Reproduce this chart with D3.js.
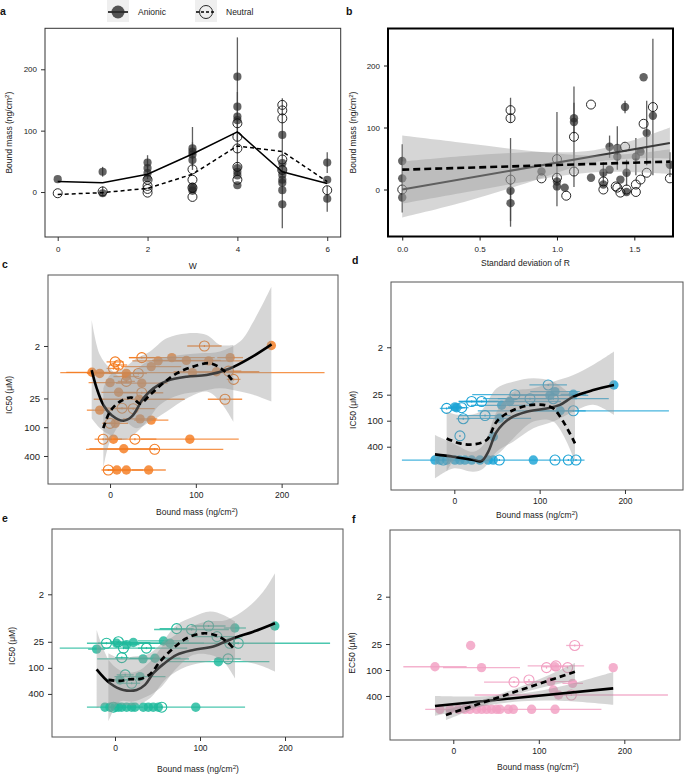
<!DOCTYPE html>
<html><head><meta charset="utf-8">
<script src="https://cdn.jsdelivr.net/npm/d3@7"></script>
<style>body{margin:0;background:#fff} svg text{font-family:"Liberation Sans",Arial,Helvetica,sans-serif}</style>
</head><body><script>
// ---------------- DATA ----------------
// Panel a: bound mass vs W
const aW = [0, 1, 2, 3, 4, 5, 6];
const aXTicks = [0, 2, 4, 6];
const massTicks = [0, 100, 200];
const aAnionicMean = [17, 15, 29, 62, 98, 33, 14];
const aNeutralMean = [-4, -1, 6, 29, 75, 66, 17];
// [W, bound mass, sd]
const aAnionic = [[0,21,0],[1,33,8],[1,-2,0],[2,48,12],[2,39,0],[2,31,10],[2,22,0],[3,71,35],[3,66,0],[3,61,20],[3,52,0],[3,9,0],[3,5,0],[3,2,0],[4,188,0],[4,139,113],[4,123,40],[4,117,0],[4,39,0],[4,33,0],[4,27,0],[4,11,0],[5,93,0],[5,47,106],[5,36,0],[5,28,0],[5,20,0],[5,15,0],[5,3,0],[5,-20,0],[6,48,17],[6,20,0],[6,-11,21]];
const aNeutral = [[0,-2,0],[1,1,8],[2,20,0],[2,10,0],[2,5,0],[2,-1,0],[3,37,0],[3,20,0],[3,7,0],[3,-8,0],[4,112,0],[4,90,0],[4,71,0],[4,41,0],[4,20,0],[5,142,0],[5,133,0],[5,120,0],[5,53,0],[5,36,0],[6,3,0]];

// Panel b: bound mass vs SD of R  [sd, mass, err]
const bXTicks = [0, 0.5, 1.0, 1.5];
const bAnionic = [[0,46,0],[0,18,55],[0,-13,0],[0.7,-2,0],[0.7,-22,38],[0.9,29,0],[1.0,13,0],[1.0,5,0],[1.05,3,0],[1.11,115,25],[1.11,109,0],[1.22,19,0],[1.3,8,0],[1.3,27,17],[1.34,69,18],[1.34,32,0],[1.39,67,35],[1.39,53,0],[1.41,16,0],[1.44,133,10],[1.45,27,21],[1.45,-4,0],[1.51,53,30],[1.54,61,0],[1.56,181,0],[1.58,91,52],[1.62,119,0],[1.73,40,20]];
const bNeutral = [[0,0,0],[0.7,128,20],[0.7,115,0],[0.7,16,67],[0.9,18,0],[1.0,49,76],[1.0,19,0],[1.06,-10,0],[1.11,85,81],[1.11,29,0],[1.22,137,0],[1.3,13,0],[1.3,0,0],[1.38,5,0],[1.39,3,0],[1.41,-5,0],[1.44,69,0],[1.45,0,0],[1.51,-4,0],[1.51,8,0],[1.54,16,0],[1.56,106,0],[1.58,27,0],[1.62,133,110],[1.73,18,0]];
const bSolidFit = [[0,0],[1.73,75]];
const bDashedFit = [[0,32],[1.73,45]];
// [x, lower, upper]
const bSolidRibbon = [[0,-45,45],[0.4,-20,54],[0.8,10,60],[1.2,42,62],[1.5,50,80],[1.73,50,100]];
const bDashedRibbon = [[0,-23,87],[0.4,-5,75],[0.8,13,63],[1.2,27,55],[1.5,28,58],[1.73,25,65]];

// Panels c-f: potency vs bound mass  [bound mass, IC50/EC50, x sd]
const bmTicks = [0, 100, 200];
const icTicks = [2, 25, 100, 400];

const cAnionic = [[188,1.95,0],[-21,7.1,30],[-12,7.5,15],[0,11.7,25],[19,7.5,20],[19,8.7,15],[37,12,30],[10,18.6,20],[48,5.4,35],[56,4.1,30],[72,3.5,50],[89,4.0,40],[115,4.1,40],[140,3.5,15],[124,6.9,50],[96,7.2,154],[34,26,53],[35,67,20],[48,71,20],[6,83,15],[4,178,10],[93,178,57],[16,282,40],[8,785,15],[19,785,20],[45,785,20],[-12,44,15]];
const cNeutral = [[110,2,20],[37,3.5,15],[6,4.3,10],[10,5,10],[4,5.9,8],[33,7.5,10],[19,11,10],[37,19,25],[138,6.7,15],[144,10,8],[134,26,20],[14,40,20],[27,41,25],[0,83,8],[-8,178,10],[29,178,25],[52,290,80],[-2,785,8]];
const cSolidFit = [[-21.4,6.4],[-15.5,15.4],[-7.8,34],[1.9,56],[15.5,73],[25.2,60],[38.8,25],[50.5,15.4],[66,10.8],[89.3,8.8],[112.6,8.1],[139.8,5.9],[163,3.6],[188.3,1.85]];
const cDashedFit = [[-7.8,105],[0,47],[11.7,29],[25.2,24],[35,32],[46.6,21],[62,12],[77.7,7.5],[97,5.4],[116.5,4.6],[132,6.4],[143.7,11.1]];
// [x, top (low value), bottom (high value)]
const cSolidRibbon = [[-21.4,0.571,65],[-11.7,3.1,105],[0,5.9,146],[15.5,9.5,185],[27.2,6.9,146],[42.7,4.3,77],[58.3,3.6,34],[81.6,3.1,21],[104.9,2.85,18],[128.2,2.6,15.4],[151.5,1.62,18],[167,0.62,21],[188,0.115,29]];
const cDashedRibbon = [[-7.8,15.4,725],[0,8.1,200],[15.5,5.9,77],[31,3.6,105],[46.6,2.6,77],[66,1.38,47],[89.3,1.09,25],[112.6,1.18,18],[128.2,1.9,29],[143.7,1.9,77]];

const dAnionic = [[187,14.9,0],[118,21.3,29],[139.5,24.5,15],[112,26,45],[65,36,60],[55.5,44,36],[2.7,50,10],[0.8,48,8],[124,59,30],[53,88,37],[45.7,235,0],[-22.7,815,0],[-16.8,815,0],[-9,815,0],[0.7,815,0],[6.6,815,0],[12.4,815,0],[20.3,815,0],[30,815,0],[39.7,815,0],[45.6,815,107],[92.6,815,0]];
const dNeutral = [[110,14.9,22],[71,25,50],[88.7,31,55],[116,31,65],[20.3,36,15],[32,36,20],[-9,52,8],[8.6,50,8],[139.5,59,112],[10.5,90,8],[36,76,30],[6.6,225,0],[52.7,815,0],[118,815,0],[133.6,815,0],[142.6,815,0],[-12.9,815,0]];
const dSolidFit = [[-22.7,603],[-1.2,682],[22.3,815],[32,859],[39.8,523],[49.6,180],[65.2,88],[84.8,62],[108.2,52],[123.8,43],[139.5,27.8],[162.9,19.5],[187.1,14.9]];
const dDashedFit = [[-9,257],[6.6,335],[22.3,353],[37.9,280],[49.6,105],[65.2,62],[84.8,45],[104.3,43],[116,52],[127.7,105],[141.4,335]];
const dSolidRibbon = [[-22.7,215,2166],[-1.2,335,1271],[22.3,523,1517],[34,366,1271],[49.6,62,523],[69.1,21.3,306],[92.6,17.8,150],[116,12.5,105],[139.5,8.75,62],[162.9,5.1,43],[187.1,2.52,74]];
const dDashedRibbon = [[-9,62,1517],[6.6,74,624],[30,62,891],[49.6,17.8,624],[69.1,12.5,257],[92.6,10.4,105],[116,12.5,105],[141.4,30,891]];

const eAnionic = [[188,10.8,0],[141,12,13],[57,23.9,30],[21.6,26,20],[2,27,35],[13.7,29,15],[64.7,27,40],[-21.6,37,10],[33,62,54],[47,60,30],[121.6,72,60],[29.4,159,30],[5.9,190,15],[-11.8,810,0],[-5.9,810,0],[0,810,33],[3.9,810,0],[7.8,810,0],[13.7,810,0],[19.6,810,0],[23.5,810,0],[33.3,810,0],[39.2,810,0],[45,810,0],[51,810,0],[95,810,58]];
const eNeutral = [[110,10.8,20],[72.5,12.4,20],[90,13,44],[120,19,30],[135,27,10],[145,27,108],[-10,27,10],[4,25,10],[10,35,75],[8,58,8],[37,35,10],[133,62,15],[12,145,10],[19.6,227,10],[55,810,0],[-1.8,810,0]];
const eSolidFit = [[-21.6,108],[-5.9,226],[9.8,323],[25.5,323],[35.3,247],[45.1,133],[56.9,82],[72.5,50],[92.2,38.5],[115.7,32],[139.2,20.7],[162.7,14.6],[188.2,9.3]];
const eDashedFit = [[-7.8,190],[5.9,200],[17.6,183],[29.4,180],[41.2,140],[52.9,72],[68.6,35],[84.3,20.7],[103.9,15.9],[119.6,18],[131.4,24.7],[141.2,38.5]];
const eSolidRibbon = [[-21.6,13.3,855],[-5.9,72,656],[9.8,122,716],[25.5,122,716],[41.2,72,502],[60.8,24.7,174],[84.3,12.2,93],[107.8,8.5,72],[131.4,7.8,60],[154.9,4.2,72],[174.5,1.73,93],[188.2,0.655,122]];
const eDashedRibbon = [[-7.8,46,1734],[5.9,60,600],[21.6,55,600],[37.3,50,460],[52.9,29.5,295],[72.5,10.2,102],[92.2,6.6,50],[111.8,5.0,50],[127.5,6.0,72],[141.2,8.5,174]];

const fAnionic = [[20.3,27,0],[-21.4,84,37],[33,88,45],[119,84,15],[187,88,0],[114,186,30],[139.6,204,12],[117,290,0],[123,380,0],[-15.6,815,0],[-3.9,815,0],[5.8,815,0],[13.6,815,0],[19.5,815,0],[27.3,815,0],[33.1,815,0],[39,815,0],[44.8,815,0],[50.7,815,0],[54.6,815,0],[64.3,815,0],[70.2,815,103],[91.6,815,0],[119,815,0]];
const fNeutral = [[142,27,10],[109,88,0],[120,80,33],[133.7,88,0],[71,190,35],[88.5,170,0],[138,380,113]];
const fSolidFit = [[-21.4,682],[187,266]];
const fDashedFit = [[-8.6,1100],[142.3,110]];
const fSolidRibbon = [[-21.4,402,1160],[30,410,713],[80,351,531],[130,228,521],[187,111,638]];
const fDashedRibbon = [[-8.6,836,1452],[30,520,718],[70,282,389],[110,136,237],[142.3,69,174]];

// ---------------- DRAWING ----------------
const FONT = '"Liberation Sans", Arial, Helvetica, sans-serif';
const svg = d3.select("body").append("svg").attr("width", 685).attr("height", 774);
let clipN = 0;
function frame(box) {
  const id = "clip" + (clipN++);
  svg.append("clipPath").attr("id", id).append("rect")
    .attr("x", box.x0).attr("y", box.y0).attr("width", box.x1 - box.x0).attr("height", box.y1 - box.y0);
  return svg.append("g").attr("clip-path", `url(#${id})`);
}
function border(box, color, w) {
  svg.append("rect").attr("x", box.x0).attr("y", box.y0).attr("width", box.x1 - box.x0).attr("height", box.y1 - box.y0)
    .attr("fill", "none").attr("stroke", color).attr("stroke-width", w);
}
function axes(box, x, y, xt, yt, xf, yf, o) {
  const gx = svg.append("g").attr("transform", `translate(0,${box.y1})`)
    .call(d3.axisBottom(x).tickValues(xt).tickFormat(xf).tickSize(4).tickPadding(o.xpad));
  const gy = svg.append("g").attr("transform", `translate(${box.x0},0)`)
    .call(d3.axisLeft(y).tickValues(yt).tickFormat(yf).tickSize(4).tickPadding(4));
  [[gx, o.xfs], [gy, o.yfs]].forEach(([g, fs]) => {
    g.select(".domain").remove();
    g.selectAll("line").attr("stroke", o.tickColor || "#333");
    g.selectAll("text").attr("fill", "#222").style("font-family", FONT).style("font-size", fs + "px");
  });
}
function title(x, y, parts, rot, fs) {
  const t = svg.append("text").attr("text-anchor", "middle").attr("fill", "#222").style("font-size", fs + "px")
    .attr("transform", `translate(${x},${y})` + (rot ? " rotate(-90)" : ""));
  let shifted = false;
  parts.forEach(p => {
    const s = t.append("tspan").text(p[0]);
    if (p[1]) { s.attr("dy", -fs * 0.38).style("font-size", (fs * 0.72) + "px"); shifted = true; }
    else if (shifted) { s.attr("dy", fs * 0.38); shifted = false; }
  });
}
const massTitle = [["Bound mass (ng/cm"], ["2", true], [")"]];
function letter(t, x, y) {
  svg.append("text").attr("x", x).attr("y", y).text(t).style("font-size", "10.5px").style("font-weight", "bold").attr("fill", "#111");
}

// ---- Panel a ----
(function () {
  const box = { x0: 45, y0: 28.3, x1: 340.7, y1: 237 };
  const x = d3.scaleLinear().domain([-0.283, 6.30]).range([box.x0, box.x1]);
  const y = d3.scaleLinear().domain([-73.3, 266.8]).range([box.y1, box.y0]);
  const g = frame(box);
  const pts = aAnionic.map(d => ({ x: d[0], v: d[1], e: d[2], f: true }))
    .concat(aNeutral.map(d => ({ x: d[0], v: d[1], e: d[2], f: false })));
  g.selectAll(null).data(pts.filter(d => d.e > 0)).join("line")
    .attr("x1", d => x(d.x)).attr("x2", d => x(d.x)).attr("y1", d => y(d.v - d.e)).attr("y2", d => y(d.v + d.e))
    .attr("stroke", "#444").attr("stroke-width", 1.3).attr("opacity", 0.85);
  g.selectAll(null).data(pts.filter(d => d.f)).join("circle")
    .attr("cx", d => x(d.x)).attr("cy", d => y(d.v)).attr("r", 4.1).attr("fill", "#2a2a2a").attr("opacity", 0.72);
  g.selectAll(null).data(pts.filter(d => !d.f)).join("circle")
    .attr("cx", d => x(d.x)).attr("cy", d => y(d.v)).attr("r", 4.5).attr("fill", "none").attr("stroke", "#111").attr("stroke-width", 0.9);
  const ln = d3.line().x((d, i) => x(aW[i])).y(d => y(d));
  g.append("path").attr("d", ln(aAnionicMean)).attr("fill", "none").attr("stroke", "#000").attr("stroke-width", 1.5);
  g.append("path").attr("d", ln(aNeutralMean)).attr("fill", "none").attr("stroke", "#000").attr("stroke-width", 1.5).attr("stroke-dasharray", "4,3");
  border(box, "#333", 1);
  axes(box, x, y, aXTicks, massTicks, d3.format("d"), d3.format("d"), { xpad: 5.5, xfs: 8, yfs: 8 });
  title((box.x0 + box.x1) / 2, 269, [["W"]], false, 8.5);
  title(12, (box.y0 + box.y1) / 2, massTitle, true, 8.5);
  letter("a", 0, 15);
  // legend
  const items = [{ label: "Anionic", filled: true, kx: 107, tx: 138 }, { label: "Neutral", filled: false, kx: 195, tx: 226 }];
  items.forEach(it => {
    svg.append("rect").attr("x", it.kx).attr("y", 0).attr("width", 22).attr("height", 22).attr("fill", "#efefef");
    svg.append("line").attr("x1", it.kx + 1).attr("x2", it.kx + 21).attr("y1", 12).attr("y2", 12)
      .attr("stroke", "#000").attr("stroke-width", 1.5).attr("stroke-dasharray", it.filled ? null : "3,2");
    if (it.filled) svg.append("circle").attr("cx", it.kx + 11).attr("cy", 12).attr("r", 6.5).attr("fill", "#2a2a2a").attr("opacity", 0.8);
    else svg.append("circle").attr("cx", it.kx + 11).attr("cy", 12).attr("r", 6.5).attr("fill", "none").attr("stroke", "#111").attr("stroke-width", 0.9);
    svg.append("text").attr("x", it.tx).attr("y", 15).text(it.label).style("font-size", "8.5px").attr("fill", "#222");
  });
})();

// ---- Panel b ----
(function () {
  const box = { x0: 388, y0: 28.5, x1: 673, y1: 236.5 };
  const x = d3.scaleLinear().domain([-0.092, 1.75]).range([box.x0, box.x1]);
  const y = d3.scaleLinear().domain([-75.8, 259.7]).range([box.y1, box.y0]);
  const g = frame(box);
  const pts = bAnionic.map(d => ({ x: d[0], v: d[1], e: d[2], f: true }))
    .concat(bNeutral.map(d => ({ x: d[0], v: d[1], e: d[2], f: false })));
  g.selectAll(null).data(pts.filter(d => d.e > 0)).join("line")
    .attr("x1", d => x(d.x)).attr("x2", d => x(d.x)).attr("y1", d => y(d.v - d.e)).attr("y2", d => y(d.v + d.e))
    .attr("stroke", "#444").attr("stroke-width", 1.3).attr("opacity", 0.85);
  g.selectAll(null).data(pts.filter(d => d.f)).join("circle")
    .attr("cx", d => x(d.x)).attr("cy", d => y(d.v)).attr("r", 4.2).attr("fill", "#2a2a2a").attr("opacity", 0.72);
  g.selectAll(null).data(pts.filter(d => !d.f)).join("circle")
    .attr("cx", d => x(d.x)).attr("cy", d => y(d.v)).attr("r", 4.5).attr("fill", "none").attr("stroke", "#111").attr("stroke-width", 0.9);
  const area = d3.area().x(d => x(d[0])).y0(d => y(d[1])).y1(d => y(d[2])).curve(d3.curveCatmullRom);
  const ln = d3.line().x(d => x(d[0])).y(d => y(d[1]));
  g.append("path").attr("d", area(bSolidRibbon)).attr("fill", "#999").attr("opacity", 0.4);
  g.append("path").attr("d", ln(bSolidFit)).attr("fill", "none").attr("stroke", "#3a3a3a").attr("stroke-width", 2);
  g.append("path").attr("d", area(bDashedRibbon)).attr("fill", "#999").attr("opacity", 0.4);
  g.append("path").attr("d", ln(bDashedFit)).attr("fill", "none").attr("stroke", "#000").attr("stroke-width", 2.6).attr("stroke-dasharray", "7,4");
  border(box, "#000", 2);
  axes(box, x, y, bXTicks, massTicks, d3.format(".1f"), d3.format("d"), { xpad: 5.5, xfs: 8, yfs: 8, tickColor: "#111" });
  title((box.x0 + box.x1) / 2 - 5, 266, [["Standard deviation of R"]], false, 8.5);
  title(356, (box.y0 + box.y1) / 2, massTitle, true, 8.5);
  letter("b", 346, 15);
})();

// ---- Panels c-f ----
function drawIC(cfg) {
  const box = cfg.box;
  const x = d3.scaleLinear().domain(cfg.xDomain).range([box.x0, box.x1]);
  const y = d3.scaleLog().domain(cfg.yDomain).range([box.y0, box.y1]);
  const g = frame(box);
  const pts = cfg.anionic.map(d => ({ x: d[0], v: d[1], e: d[2], f: true }))
    .concat(cfg.neutral.map(d => ({ x: d[0], v: d[1], e: d[2], f: false })));
  g.selectAll(null).data(pts.filter(d => d.e > 0)).join("line")
    .attr("x1", d => x(d.x - d.e)).attr("x2", d => x(d.x + d.e)).attr("y1", d => y(d.v)).attr("y2", d => y(d.v))
    .attr("stroke", cfg.color).attr("stroke-width", 1.3).attr("opacity", 0.8);
  g.selectAll(null).data(pts.filter(d => d.f)).join("circle")
    .attr("cx", d => x(d.x)).attr("cy", d => y(d.v)).attr("r", 4.7).attr("fill", cfg.color).attr("opacity", 0.82);
  g.selectAll(null).data(pts.filter(d => !d.f)).join("circle")
    .attr("cx", d => x(d.x)).attr("cy", d => y(d.v)).attr("r", 5).attr("fill", "none").attr("stroke", cfg.color).attr("stroke-width", 1.1);
  g.selectAll(null).data(pts.filter(d => !d.f)).join("line")
    .attr("x1", d => x(d.x)).attr("x2", d => x(d.x)).attr("y1", d => y(d.v) - 1).attr("y2", d => y(d.v) + 1)
    .attr("stroke", cfg.color).attr("stroke-width", 1.2);
  const area = d3.area().x(d => x(d[0])).y0(d => y(d[2])).y1(d => y(d[1])).curve(d3.curveCatmullRom);
  const ln = d3.line().x(d => x(d[0])).y(d => y(d[1])).curve(d3.curveCatmullRom);
  g.append("path").attr("d", area(cfg.solidRibbon)).attr("fill", "#999").attr("opacity", 0.4);
  g.append("path").attr("d", ln(cfg.solidFit)).attr("fill", "none").attr("stroke", "#000").attr("stroke-width", 2.6);
  g.append("path").attr("d", area(cfg.dashedRibbon)).attr("fill", "#999").attr("opacity", 0.4);
  g.append("path").attr("d", ln(cfg.dashedFit)).attr("fill", "none").attr("stroke", "#000").attr("stroke-width", 2.7).attr("stroke-dasharray", "6,4");
  border(box, "#555", 1);
  axes(box, x, y, bmTicks, icTicks, d3.format("d"), d3.format("d"), { xpad: 4, xfs: 8.5, yfs: 9.5 });
  title(cfg.xt[0], cfg.xt[1], massTitle, false, 8.5);
  title(cfg.yt[0], cfg.yt[1], [[cfg.ylab]], true, 8.5);
  letter(cfg.letter[0], cfg.letter[1], cfg.letter[2]);
}

drawIC({ box: { x0: 48, y0: 275, x1: 338, y1: 484 }, xDomain: [-72.3, 265.7], yDomain: [0.0655, 1541], color: "#f47b20",
  anionic: cAnionic, neutral: cNeutral, solidFit: cSolidFit, dashedFit: cDashedFit, solidRibbon: cSolidRibbon, dashedRibbon: cDashedRibbon,
  xt: [197, 515], yt: [12, 395], ylab: "IC50 (\u03bcM)", letter: ["c", 2, 268] });
drawIC({ box: { x0: 391, y0: 282, x1: 683, y1: 490 }, xDomain: [-74.2, 268], yDomain: [0.0617, 4018], color: "#1ba3d6",
  anionic: dAnionic, neutral: dNeutral, solidFit: dSolidFit, dashedFit: dDashedFit, solidRibbon: dSolidRibbon, dashedRibbon: dDashedRibbon,
  xt: [537, 518], yt: [356, 410], ylab: "IC50 (\u03bcM)", letter: ["d", 352, 264] });
drawIC({ box: { x0: 52, y0: 529, x1: 343, y1: 737 }, xDomain: [-74.1, 268.2], yDomain: [0.062, 3955], color: "#1fba9c",
  anionic: eAnionic, neutral: eNeutral, solidFit: eSolidFit, dashedFit: eDashedFit, solidRibbon: eSolidRibbon, dashedRibbon: eDashedRibbon,
  xt: [198, 772], yt: [15, 646], ylab: "IC50 (\u03bcM)", letter: ["e", 2, 522] });
drawIC({ box: { x0: 390, y0: 530, x1: 680, y1: 740 }, xDomain: [-74, 265.1], yDomain: [0.0569, 4190], color: "#f29fc2",
  anionic: fAnionic, neutral: fNeutral, solidFit: fSolidFit, dashedFit: fDashedFit, solidRibbon: fSolidRibbon, dashedRibbon: fDashedRibbon,
  xt: [538, 770], yt: [355, 653], ylab: "EC50 (\u03bcM)", letter: ["f", 352, 523] });
</script></body></html>
